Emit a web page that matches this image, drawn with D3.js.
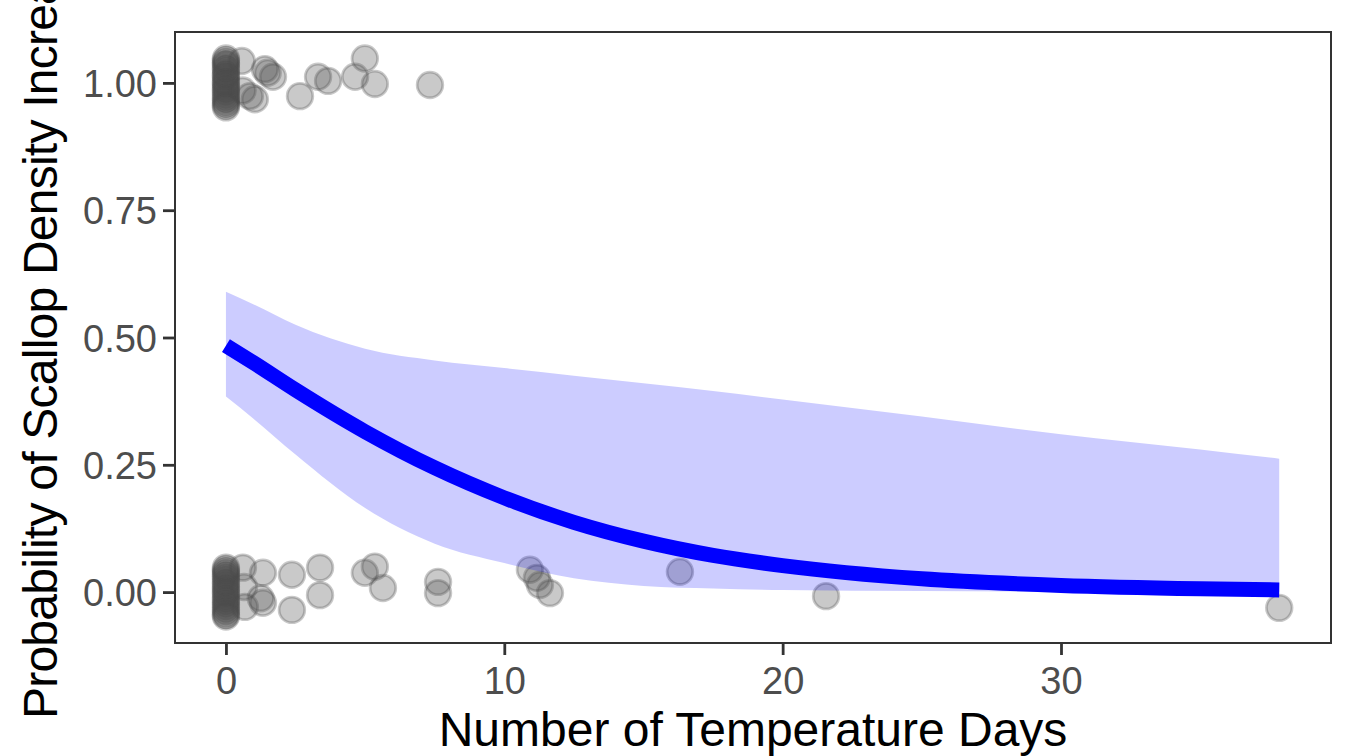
<!DOCTYPE html>
<html>
<head>
<meta charset="utf-8">
<script src="https://cdn.jsdelivr.net/npm/d3@7"></script>
<style>
  body { margin: 0; background: #fff; }
  svg { font-family: "Liberation Sans", Arial, sans-serif; }
</style>
</head>
<body>
<svg id="chart" width="1345" height="756"></svg>
<script>
// fitted curve and ribbon
let fitX = [0, 1, 2.5, 5, 7.5, 10, 12.5, 15, 17.5, 20, 25, 30, 35, 37.84];
let fitP = [0.484, 0.45, 0.397, 0.315, 0.244, 0.185, 0.137, 0.100, 0.072, 0.052, 0.026, 0.013, 0.0065, 0.0043];
let fitLo = [0.384, 0.34, 0.27, 0.165, 0.095, 0.057, 0.027, 0.012, 0.007, 0.004, 0.002, 0.001, 0.0004, 0.0002];
let fitHi = [0.59, 0.565, 0.525, 0.478, 0.455, 0.44, 0.425, 0.41, 0.395, 0.378, 0.345, 0.31, 0.28, 0.262];

// jittered observations near 1
let upX = [0, 0, 0, 0, 0, 0, 0, 0, 0, 0, 0, 0, 0, 0, 0, 0, 0, 0, 0, 0, 0,
           0.57, 0.6, 0.86, 1.04, 1.4, 1.5, 1.69, 2.66, 3.31, 3.67, 4.64, 4.99, 5.35, 7.33];
let upY = [1.048, 1.044, 1.039, 1.036, 1.03, 1.026, 1.019, 1.015, 1.011, 1.004, 1.0, 0.996, 0.99, 0.986, 0.981, 0.975, 0.97, 0.966, 0.96, 0.956, 0.952,
           1.043, 0.985, 0.974, 0.968, 1.027, 1.02, 1.012, 0.974, 1.012, 1.004, 1.012, 1.048, 0.998, 0.996];

// jittered observations near 0
let lowX = [0, 0, 0, 0, 0, 0, 0, 0, 0, 0, 0, 0, 0, 0, 0, 0, 0, 0, 0, 0, 0,
            0.61, 0.68, 0.65, 1.33, 1.33, 1.25, 2.37, 2.37, 3.38, 3.38, 4.99, 5.35, 5.64, 7.62, 7.62,
            10.92, 11.17, 11.28, 11.64, 16.31, 21.56, 37.84];
let lowY = [0.048, 0.044, 0.04, 0.035, 0.031, 0.026, 0.02, 0.016, 0.01, 0.005, 0.0, -0.004, -0.01, -0.015, -0.02, -0.025, -0.03, -0.035, -0.04, -0.045, -0.048,
            0.048, -0.029, 0.01, 0.038, -0.021, -0.012, 0.034, -0.035, 0.048, -0.006, 0.038, 0.05, 0.008, 0.02, -0.002,
            0.044, 0.028, 0.014, -0.002, 0.04, -0.008, -0.031];

let xTicks = [0, 10, 20, 30];
let yTicks = [0, 0.25, 0.5, 0.75, 1];

let svg = d3.select("#chart");

let panel = { left: 175, right: 1331, top: 32, bottom: 643 };

let x = d3.scaleLinear().domain([-1.83, 39.7]).range([panel.left, panel.right]);
let y = d3.scaleLinear().domain([-0.1, 1.1]).range([panel.bottom, panel.top]);

let points = upX.map((d, i) => [d, upY[i]]).concat(lowX.map((d, i) => [d, lowY[i]]));

svg.append("g")
    .selectAll("circle")
    .data(points)
    .join("circle")
    .attr("cx", d => x(d[0]))
    .attr("cy", d => y(d[1]))
    .attr("r", 12.8)
    .attr("fill", "#4d4d4d")
    .attr("fill-opacity", 0.3)
    .attr("stroke", "#4d4d4d")
    .attr("stroke-opacity", 0.3)
    .attr("stroke-width", 2.8);

let band = fitX.map((d, i) => ({ x: d, lo: fitLo[i], hi: fitHi[i], p: fitP[i] }));

svg.append("path")
    .datum(band)
    .attr("fill", "#0000ff")
    .attr("fill-opacity", 0.2)
    .attr("d", d3.area()
        .x(d => x(d.x))
        .y0(d => y(d.lo))
        .y1(d => y(d.hi))
        .curve(d3.curveMonotoneX));

svg.append("path")
    .datum(band)
    .attr("fill", "none")
    .attr("stroke", "#0000ff")
    .attr("stroke-width", 15)
    .attr("d", d3.line()
        .x(d => x(d.x))
        .y(d => y(d.p))
        .curve(d3.curveMonotoneX));

// panel border
svg.append("rect")
    .attr("x", panel.left)
    .attr("y", panel.top)
    .attr("width", panel.right - panel.left)
    .attr("height", panel.bottom - panel.top)
    .attr("fill", "none")
    .attr("stroke", "#333333")
    .attr("stroke-width", 2);

let xAxis = svg.append("g")
    .attr("transform", `translate(0,${panel.bottom})`)
    .call(d3.axisBottom(x).tickValues(xTicks).tickSize(12).tickPadding(12).tickFormat(d3.format("d")));

let yAxis = svg.append("g")
    .attr("transform", `translate(${panel.left},0)`)
    .call(d3.axisLeft(y).tickValues(yTicks).tickSize(12).tickPadding(6).tickFormat(d3.format(".2f")));

[xAxis, yAxis].forEach(function(g){
    g.select(".domain").remove();
    g.selectAll(".tick line").attr("stroke", "#333333").attr("stroke-width", 2.8);
    g.selectAll(".tick text")
        .attr("fill", "#4d4d4d")
        .style("font-size", "38px")
        .style("font-family", "Liberation Sans, Arial, sans-serif");
});
yAxis.selectAll(".tick text").attr("dy", "0.36em");

svg.append("text")
    .attr("x", (panel.left + panel.right) / 2)
    .attr("y", 746)
    .attr("text-anchor", "middle")
    .style("font-size", "48px")
    .attr("fill", "#000")
    .text("Number of Temperature Days");

svg.append("text")
    .attr("transform", "translate(57,719) rotate(-90)")
    .attr("text-anchor", "start")
    .style("font-size", "48px")
    .attr("textLength", 790)
    .attr("fill", "#000")
    .text("Probability of Scallop Density Increase");
</script>
</body>
</html>
